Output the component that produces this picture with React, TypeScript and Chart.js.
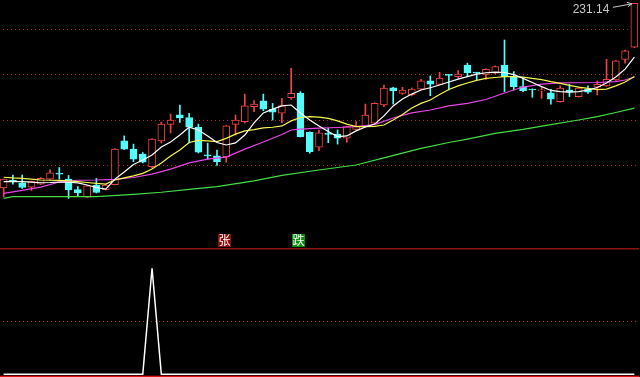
import { useEffect, useRef } from 'react';
import { Chart, registerables } from 'chart.js';

Chart.register(...registerables);

// ---- daily candles (69 sessions) ----
const OPEN = [
  149.9, 153.2, 152.2, 150.3, 151.6, 153.8, 156.3, 153.8, 149.2, 145.9,
  151.2, 149.2, 151.4, 170.6, 167.0, 164.8, 159.3, 170.6, 177.9, 182.1,
  180.9, 176.6, 164.4, 164.0, 163.7, 177.9, 179.1, 185.7, 188.2, 184.6,
  182.8, 189.6, 191.5, 174.4, 167.8, 173.8, 173.6, 171.8, 175.7, 176.9,
  178.4, 186.4, 194.0, 191.5, 190.8, 193.4, 197.0, 195.5, 199.6, 198.9,
  204.0, 200.6, 199.9, 200.4, 204.0, 198.9, 194.5, 193.3, 192.6, 191.8,
  187.9, 193.0, 190.1, 193.3, 194.2, 194.8, 197.4, 206.5, 211.8,
];
const HIGH = [
  153.8, 155.6, 155.6, 152.9, 154.5, 158.0, 158.9, 155.4, 150.5, 151.0,
  154.1, 151.6, 167.2, 172.8, 169.2, 165.5, 171.6, 178.9, 182.4, 186.4,
  182.7, 178.0, 169.6, 166.6, 177.4, 182.0, 191.2, 188.3, 191.2, 187.1,
  189.3, 202.5, 192.3, 174.6, 175.4, 176.2, 175.4, 177.1, 179.1, 186.8,
  187.3, 195.2, 194.2, 194.2, 193.9, 197.7, 199.2, 200.8, 199.8, 201.5,
  204.8, 200.8, 202.3, 203.6, 215.0, 201.1, 198.2, 193.5, 194.5, 193.3,
  194.8, 195.5, 194.3, 194.8, 197.0, 206.5, 206.0, 210.6, 231.14,
];
const LOW = [
  145.9, 151.6, 149.7, 148.8, 151.4, 153.6, 153.8, 145.3, 146.4, 145.7,
  147.7, 149.0, 151.2, 166.8, 161.5, 160.9, 158.7, 169.7, 174.1, 178.7,
  169.7, 165.3, 162.6, 159.8, 161.2, 173.2, 178.4, 183.5, 183.9, 179.8,
  178.6, 188.9, 172.3, 165.2, 166.3, 169.8, 169.2, 170.0, 175.4, 176.7,
  178.2, 185.7, 186.8, 191.1, 190.4, 193.2, 190.5, 195.3, 193.0, 198.2,
  198.9, 197.4, 197.7, 200.2, 192.3, 193.0, 192.3, 189.8, 189.3, 186.8,
  187.7, 190.1, 189.9, 191.5, 190.8, 194.6, 197.2, 204.8, 211.6,
];
const CLOSE = [
  153.8, 152.7, 150.1, 152.7, 154.1, 156.5, 156.0, 149.0, 147.7, 150.8,
  147.9, 151.2, 167.0, 167.0, 162.6, 161.3, 171.4, 178.0, 179.8, 180.7,
  176.6, 165.6, 164.0, 161.5, 177.2, 179.8, 186.0, 186.8, 184.6, 183.2,
  186.1, 191.5, 172.5, 165.9, 174.2, 173.5, 171.8, 176.9, 177.2, 182.0,
  187.1, 193.8, 192.6, 193.0, 193.4, 197.0, 195.6, 198.2, 199.4, 200.0,
  200.6, 200.4, 202.1, 203.3, 198.9, 194.5, 192.7, 193.0, 192.8, 189.0,
  193.8, 192.0, 193.8, 192.0, 195.5, 197.7, 205.8, 210.2, 231.14,
];
const LABELS = OPEN.map((_, i) => `D${i + 1}`);

// ---- moving averages: [session index, value] ----
const MA5 = [
  [0, 152.7], [1, 152.8], [2, 152.7], [3, 152.5], [4, 152.2], [5, 152.3], [6, 152.5], [7, 152.4],
  [8, 152.1], [9, 151.2], [10, 150.1], [11, 149.4], [12, 153.8], [13, 156.9], [14, 160.2], [15, 162.2],
  [16, 164.4], [17, 167.9], [18, 170.1], [19, 173.2], [20, 176.6], [21, 175.4], [22, 172.8], [23, 169.9],
  [24, 168.8], [25, 169.7], [26, 173.2], [27, 178.5], [28, 182.9], [29, 184.6], [30, 186.0], [31, 186.4],
  [32, 182.9], [33, 179.8], [34, 177.2], [35, 174.7], [36, 172.5], [37, 172.8], [38, 175.0], [39, 176.7],
  [40, 178.0], [41, 181.6], [42, 186.0], [43, 189.0], [44, 191.2], [45, 193.0], [46, 194.0], [47, 195.2],
  [48, 196.5], [49, 197.8], [50, 198.9], [51, 200.0], [52, 200.6], [53, 200.9], [54, 200.7], [55, 199.8],
  [56, 198.1], [57, 196.3], [58, 194.5], [59, 192.8], [60, 192.3], [61, 192.1], [62, 192.3], [63, 193.0],
  [64, 194.1], [65, 196.1], [66, 198.7], [67, 202.2], [68, 207.5],
];
const MA10 = [
  [0, 154.6], [1, 154.3], [2, 154.1], [3, 153.8], [4, 153.4], [5, 153.3], [6, 153.2], [7, 153.0],
  [8, 152.7], [9, 152.3], [10, 151.9], [11, 151.6], [12, 153.4], [13, 154.3], [14, 155.2], [15, 156.3],
  [16, 158.2], [17, 160.9], [18, 164.0], [19, 166.6], [20, 169.9], [21, 170.8], [22, 170.6], [23, 170.3],
  [24, 171.7], [25, 173.6], [26, 175.0], [27, 175.6], [28, 176.3], [29, 176.6], [30, 177.2], [31, 179.4],
  [32, 180.9], [33, 181.3], [34, 181.1], [35, 180.5], [36, 179.4], [37, 178.0], [38, 176.9], [39, 176.9],
  [40, 177.0], [41, 177.6], [42, 179.8], [43, 182.2], [44, 185.1], [45, 187.1], [46, 188.6], [47, 191.0],
  [48, 193.2], [49, 194.8], [50, 196.1], [51, 197.2], [52, 198.1], [53, 198.5], [54, 198.9], [55, 198.9],
  [56, 198.7], [57, 198.1], [58, 197.6], [59, 196.7], [60, 195.9], [61, 195.0], [62, 194.3], [63, 193.7],
  [64, 193.2], [65, 193.4], [66, 194.8], [67, 196.5], [68, 198.9],
];
const MA20 = [
  [0, 147.5], [2, 148.8], [4, 150.3], [6, 152.5], [8, 153.3], [10, 153.4], [12, 153.7], [14, 154.5],
  [16, 156.0], [18, 158.2], [20, 160.9], [22, 162.6], [24, 163.5], [26, 167.0], [28, 170.1], [30, 173.4],
  [31, 175.4], [32, 175.8], [34, 176.2], [36, 176.5], [38, 176.9], [40, 177.8], [42, 180.7], [44, 182.9],
  [46, 184.2], [48, 186.0], [50, 187.1], [52, 188.8], [54, 191.7], [56, 194.3], [58, 195.6], [60, 196.1],
  [62, 196.2], [64, 196.3], [66, 196.7], [67, 197.4], [68, 198.7],
];
const MA60 = [
  [0, 145.3], [1, 146.1], [10, 146.1], [14, 147.1], [17, 148.0], [20, 149.3], [23, 150.5], [27, 153.0],
  [30, 155.4], [34, 157.8], [38, 160.0], [41, 163.1], [45, 167.3], [48, 169.9], [50, 171.4], [53, 173.9],
  [56, 175.7], [59, 177.8], [62, 179.8], [64, 181.3], [66, 183.1], [68, 185.0],
];

// ---- lower indicator ----
const SIGNAL = [
  0, 0, 0, 0, 0, 0, 0, 0, 0, 0, 0, 0, 0, 0, 0, 0, 1, 0, 0, 0,
  0, 0, 0, 0, 0, 0, 0, 0, 0, 0, 0, 0, 0, 0, 0, 0, 0, 0, 0, 0,
  0, 0, 0, 0, 0, 0, 0, 0, 0, 0, 0, 0, 0, 0, 0, 0, 0, 0, 0, 0,
  0, 0, 0, 0, 0, 0, 0, 0, 0,
];

const MAIN_GRID = [160, 180, 200, 220];
const SUB_GRID = [0.5];
const MARKERS = [
  { index: 24, text: '张', bg: '#8e0c0c' },
  { index: 32, text: '跌', bg: '#0c8a0c' },
];

const RED = '#f04444';
const CYAN = '#54fcfc';
const GRID_RED = '#b02a2a';

const maLine = (pts: number[][], color: string) => ({
  type: 'line' as const,
  data: pts.map(([i, v]) => ({ x: LABELS[i], y: v })),
  borderColor: color,
  borderWidth: 1.2,
  pointRadius: 0,
  tension: 0,
  fill: false,
  order: 0,
});

const mainDecor = {
  id: 'mainDecor',
  beforeDatasetsDraw(chart: any) {
    const { ctx, scales, width } = chart;
    ctx.save();
    ctx.strokeStyle = GRID_RED;
    ctx.lineWidth = 1;
    ctx.setLineDash([1, 3]);
    MAIN_GRID.forEach((v) => {
      const y = Math.round(scales.y.getPixelForValue(v)) + 0.5;
      ctx.beginPath();
      ctx.moveTo(0, y);
      ctx.lineTo(width, y);
      ctx.stroke();
    });
    ctx.restore();
  },
  afterDatasetsDraw(chart: any) {
    const { ctx, scales } = chart;
    ctx.save();
    // signal markers
    MARKERS.forEach((m) => {
      const xc = scales.x.getPixelForValue(m.index);
      const left = Math.round(xc - 8.5);
      ctx.fillStyle = m.bg;
      ctx.fillRect(left, 234, 13, 13);
      ctx.fillStyle = '#ffffff';
      ctx.font = '12px "Noto Sans CJK SC"';
      ctx.textAlign = 'center';
      ctx.textBaseline = 'middle';
      ctx.fillText(m.text, left + 6.5, 240.5);
    });
    // highest price label
    let idx = 0;
    HIGH.forEach((h, i) => { if (h > HIGH[idx]) idx = i; });
    const xc = scales.x.getPixelForValue(idx);
    const yh = scales.y.getPixelForValue(HIGH[idx]);
    ctx.fillStyle = '#c8c8c8';
    ctx.strokeStyle = '#c8c8c8';
    ctx.font = '12px "Liberation Sans", Arial, sans-serif';
    ctx.textAlign = 'right';
    ctx.textBaseline = 'alphabetic';
    ctx.fillText(HIGH[idx].toFixed(2), xc - 25, yh + 10);
    ctx.lineWidth = 1;
    const tx = xc - 2.5, ty = yh + 0.5;
    ctx.beginPath();
    ctx.moveTo(xc - 21.5, yh + 4);
    ctx.lineTo(tx, ty);
    ctx.moveTo(tx, ty);
    ctx.lineTo(tx - 5, ty - 1.5);
    ctx.moveTo(tx, ty);
    ctx.lineTo(tx - 4, ty + 3);
    ctx.stroke();
    ctx.restore();
  },
};

const subDecor = {
  id: 'subDecor',
  beforeDatasetsDraw(chart: any) {
    const { ctx, scales, width, height } = chart;
    ctx.save();
    ctx.strokeStyle = GRID_RED;
    ctx.lineWidth = 1;
    ctx.setLineDash([1, 3]);
    SUB_GRID.forEach((v) => {
      const y = Math.round(scales.y.getPixelForValue(v)) + 0.5;
      ctx.beginPath();
      ctx.moveTo(0, y);
      ctx.lineTo(width, y);
      ctx.stroke();
    });
    ctx.setLineDash([]);
    ctx.fillStyle = '#8a1414';
    ctx.fillRect(0, 0, width + 2, 1.5);
    ctx.fillStyle = '#e01414';
    ctx.fillRect(0, height - 1.3, width + 2, 1.3);
    ctx.restore();
  },
};

export default function App() {
  const mainRef = useRef<HTMLCanvasElement>(null);
  const subRef = useRef<HTMLCanvasElement>(null);

  useEffect(() => {
    const up = CLOSE.map((c, i) => c >= OPEN[i]);
    const main = new Chart(mainRef.current as HTMLCanvasElement, {
      type: 'bar',
      data: {
        labels: LABELS,
        datasets: [
          maLine(MA5, '#ffffff'),
          maLine(MA10, '#f5f550'),
          maLine(MA20, '#e845e8'),
          maLine(MA60, '#44dd44'),
          {
            type: 'bar',
            data: OPEN.map((o, i) => [o, CLOSE[i]]),
            backgroundColor: up.map((u) => (u ? '#000000' : CYAN)),
            borderColor: up.map((u) => (u ? RED : CYAN)),
            borderWidth: 1,
            borderSkipped: false,
            barThickness: 7,
            minBarLength: 1,
            grouped: false,
            order: 1,
          },
          {
            type: 'bar',
            data: LOW.map((l, i) => [l, HIGH[i]]),
            backgroundColor: up.map((u) => (u ? RED : CYAN)),
            borderWidth: 0,
            barThickness: 1,
            grouped: false,
            order: 2,
          },
        ] as any,
      },
      options: {
        responsive: false,
        animation: false,
        devicePixelRatio: 1,
        events: [],
        layout: { padding: 0 },
        plugins: { legend: { display: false }, tooltip: { enabled: false } },
        scales: {
          x: { type: 'category', display: false, offset: true },
          y: { display: false, min: 123.48, max: 232.6 },
        },
      },
      plugins: [mainDecor],
    });

    const sub = new Chart(subRef.current as HTMLCanvasElement, {
      type: 'line',
      data: {
        labels: LABELS,
        datasets: [
          {
            data: SIGNAL,
            borderColor: '#ffffff',
            borderWidth: 1.5,
            pointRadius: 0,
            tension: 0,
            fill: false,
          },
        ],
      },
      options: {
        responsive: false,
        animation: false,
        devicePixelRatio: 1,
        events: [],
        layout: { padding: 0 },
        plugins: { legend: { display: false }, tooltip: { enabled: false } },
        scales: {
          x: { type: 'category', display: false, offset: true },
          y: { display: false, min: -0.0255, max: 1.1915 },
        },
      },
      plugins: [subDecor],
    });

    return () => {
      main.destroy();
      sub.destroy();
    };
  }, []);

  return (
    <div
      style={{
        position: 'fixed',
        left: 0,
        top: 0,
        width: 640,
        height: 377,
        background: '#000000',
        overflow: 'hidden',
      }}
    >
      <canvas
        ref={mainRef}
        width={640}
        height={248}
        style={{ position: 'absolute', left: -1, top: 0, width: 640, height: 248 }}
      />
      <canvas
        ref={subRef}
        width={640}
        height={129}
        style={{ position: 'absolute', left: -1, top: 248, width: 640, height: 129 }}
      />
    </div>
  );
}
